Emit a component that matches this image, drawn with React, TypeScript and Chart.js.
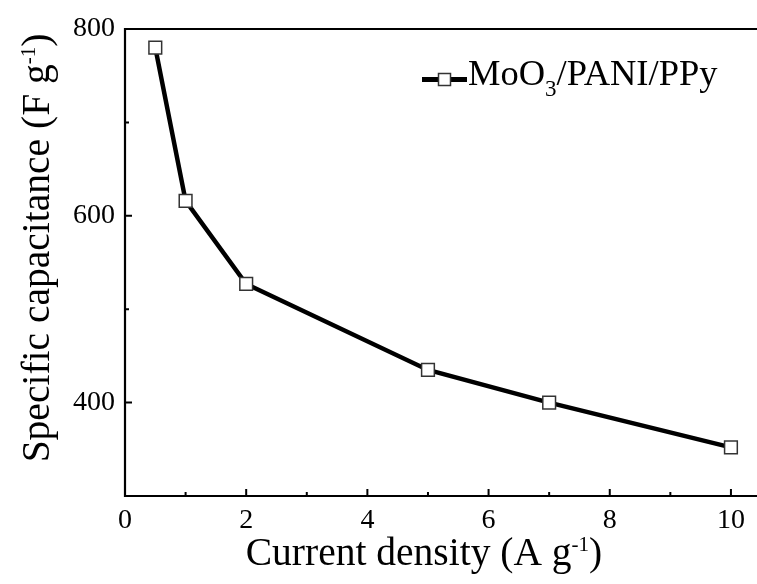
import { useEffect, useRef } from "react";
import { Chart, registerables } from "chart.js";

Chart.register(...registerables);

const currentDensity = [0.5, 1, 2, 5, 7, 10];
const capacitance = [780, 616, 527, 435, 400, 352];
const xMajorTicks = [0, 2, 4, 6, 8, 10];
const xMinorTicks = [1, 3, 5, 7, 9];
const yMajorTicks = [400, 600, 800];
const yMinorTicks = [500, 700];
const seriesName = ["MoO", "3", "/PANI/PPy"];
const xTitle = ["Current density (A g", "-1", ")"];
const yTitle = ["Specific capacitance (F g", "-1", ")"];

const FONT = "'Liberation Serif', 'Times New Roman', serif";

type Seg = { text: string; size: number; dy: number };

function segWidth(ctx: CanvasRenderingContext2D, segs: Seg[]) {
  let w = 0;
  for (const s of segs) {
    ctx.font = `${s.size}px ${FONT}`;
    w += ctx.measureText(s.text).width;
  }
  return w;
}

function drawSegs(ctx: CanvasRenderingContext2D, segs: Seg[], x: number, y: number) {
  let cx = x;
  ctx.textBaseline = "alphabetic";
  ctx.textAlign = "left";
  for (const s of segs) {
    ctx.font = `${s.size}px ${FONT}`;
    ctx.fillText(s.text, cx, y + s.dy);
    cx += ctx.measureText(s.text).width;
  }
}

const framePlugin = {
  id: "frame",
  beforeDatasetsDraw(chart: any) {
    const ctx: CanvasRenderingContext2D = chart.ctx;
    const { left, right, top, bottom } = chart.chartArea;
    const xs = chart.scales.x;
    const ys = chart.scales.y;
    ctx.save();
    ctx.strokeStyle = "#000";
    ctx.lineWidth = 2.2;
    ctx.lineCap = "square";
    ctx.beginPath();
    ctx.moveTo(right + 2, top);
    ctx.lineTo(left, top);
    ctx.lineTo(left, bottom);
    ctx.lineTo(right + 2, bottom);
    ctx.stroke();
    ctx.lineCap = "butt";
    ctx.lineWidth = 2;
    ctx.beginPath();
    for (const v of xMajorTicks) {
      const px = xs.getPixelForValue(v);
      ctx.moveTo(px, bottom);
      ctx.lineTo(px, bottom - 7);
    }
    for (const v of xMinorTicks) {
      const px = xs.getPixelForValue(v);
      ctx.moveTo(px, bottom);
      ctx.lineTo(px, bottom - 4);
    }
    for (const v of yMajorTicks) {
      const py = ys.getPixelForValue(v);
      ctx.moveTo(left, py);
      ctx.lineTo(left + 7, py);
    }
    for (const v of yMinorTicks) {
      const py = ys.getPixelForValue(v);
      ctx.moveTo(left, py);
      ctx.lineTo(left + 4, py);
    }
    ctx.stroke();
    ctx.restore();
  },
  afterDraw(chart: any) {
    const ctx: CanvasRenderingContext2D = chart.ctx;
    ctx.save();
    ctx.fillStyle = "#000";
    // x title
    const xs: Seg[] = [
      { text: xTitle[0], size: 39.5, dy: 0 },
      { text: xTitle[1], size: 21, dy: -14 },
      { text: xTitle[2], size: 39.5, dy: 0 },
    ];
    const xw = segWidth(ctx, xs);
    drawSegs(ctx, xs, 424 - xw / 2, 565);
    // y title
    const ysg: Seg[] = [
      { text: yTitle[0], size: 39.5, dy: 0 },
      { text: yTitle[1], size: 21, dy: -14 },
      { text: yTitle[2], size: 39.5, dy: 0 },
    ];
    const yw = segWidth(ctx, ysg);
    ctx.save();
    ctx.translate(49, 248);
    ctx.rotate(-Math.PI / 2);
    drawSegs(ctx, ysg, -yw / 2, 0);
    ctx.restore();
    // legend
    const ly = 79.5;
    ctx.strokeStyle = "#000";
    ctx.lineWidth = 5;
    ctx.beginPath();
    ctx.moveTo(422, ly);
    ctx.lineTo(467, ly);
    ctx.stroke();
    ctx.fillStyle = "#fff";
    ctx.fillRect(438.5, ly - 6, 12, 12);
    ctx.strokeStyle = "#333";
    ctx.lineWidth = 1.5;
    ctx.strokeRect(438.5, ly - 6, 12, 12);
    ctx.fillStyle = "#000";
    drawSegs(
      ctx,
      [
        { text: seriesName[0], size: 36.5, dy: 0 },
        { text: seriesName[1], size: 23, dy: 11 },
        { text: seriesName[2], size: 36.5, dy: 0 },
      ],
      468,
      85
    );
    ctx.restore();
  },
};

export default function App() {
  const ref = useRef<HTMLCanvasElement | null>(null);
  useEffect(() => {
    if (!ref.current) return;
    const chart = new Chart(ref.current, {
      type: "line",
      data: {
        datasets: [
          {
            label: seriesName.join(""),
            data: currentDensity.map((x, i) => ({ x, y: capacitance[i] })),
            borderColor: "#000",
            borderWidth: 4.5,
            tension: 0,
            pointStyle: "rect",
            pointRadius: 9,
            pointBorderWidth: 1.5,
            pointBorderColor: "#333",
            pointBackgroundColor: "#fff",
          },
        ],
      },
      options: {
        responsive: false,
        animation: false,
        devicePixelRatio: 1,
        layout: { autoPadding: false, padding: { top: 29, left: 0, right: 0, bottom: 0 } },
        plugins: { legend: { display: false }, tooltip: { enabled: false } },
        scales: {
          x: {
            type: "linear",
            min: 0,
            max: 10.43,
            grid: { display: false, drawTicks: false },
            border: { display: false },
            afterBuildTicks: (s: any) => {
              s.ticks = xMajorTicks.map((v) => ({ value: v }));
            },
            afterFit: (s: any) => {
              s.height = 88;
              s.paddingLeft = 0;
              s.paddingRight = 0;
            },
            ticks: {
              padding: 8,
              color: "#000",
              font: { family: FONT, size: 28 },
              maxRotation: 0,
              autoSkip: false,
            },
          },
          y: {
            type: "linear",
            min: 300,
            max: 800,
            grid: { display: false, drawTicks: false },
            border: { display: false },
            afterBuildTicks: (s: any) => {
              s.ticks = yMajorTicks.map((v) => ({ value: v }));
            },
            afterFit: (s: any) => {
              s.width = 125;
              s.paddingTop = 0;
              s.paddingBottom = 0;
            },
            ticks: {
              padding: 10,
              color: "#000",
              font: { family: FONT, size: 28 },
              autoSkip: false,
            },
          },
        },
      },
      plugins: [framePlugin],
    });
    return () => chart.destroy();
  }, []);
  return (
    <div style={{ position: "absolute", left: 0, top: 0, width: 757, height: 584, background: "#fff" }}>
      <canvas ref={ref} width={757} height={584} style={{ width: 757, height: 584, display: "block" }} />
    </div>
  );
}
